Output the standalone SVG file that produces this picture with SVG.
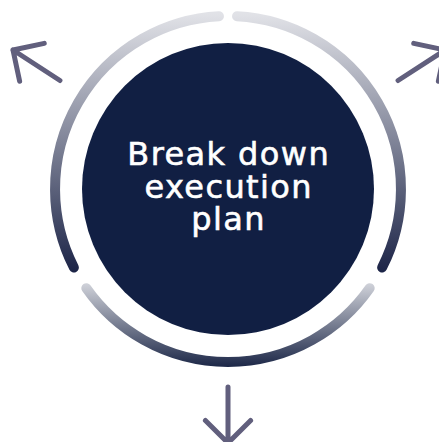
<svg xmlns="http://www.w3.org/2000/svg" width="439" height="442" viewBox="0 0 439 442">
  <style>
    .ring { fill: none; stroke-width: 10; stroke-linecap: round; }
    .arrow { fill: none; stroke: #615f7d; stroke-width: 5; stroke-linecap: round; stroke-linejoin: round; }
    .label { font-family: "DejaVu Sans", "Liberation Sans", sans-serif; font-size: 32px; fill: #ffffff; stroke: #ffffff; stroke-width: 0.6; text-anchor: middle; letter-spacing: 1.4px; }
  </style>
  <defs>
    <linearGradient id="gSide" gradientUnits="userSpaceOnUse" x1="0" y1="14" x2="0" y2="272">
      <stop offset="0" stop-color="#e1e2e7"/>
      <stop offset="1" stop-color="#1c2447"/>
    </linearGradient>
    <linearGradient id="gBottom" gradientUnits="userSpaceOnUse" x1="0" y1="282" x2="0" y2="366">
      <stop offset="0" stop-color="#d3d5dc"/>
      <stop offset="1" stop-color="#1e2949"/>
    </linearGradient>
    <path id="arrowShape" d="M56 0 L0 0 M22.6 -22.6 L0 0 L22.6 22.6"/>
  </defs>

  <g id="ring">
    <path class="ring" stroke="url(#gSide)" d="M73.9 267.5 A173 173 0 0 1 218.95 16.2"/>
    <path class="ring" stroke="url(#gSide)" d="M237.05 16.2 A173 173 0 0 1 382.1 267.5"/>
    <path class="ring" stroke="url(#gBottom)" d="M369.7 288.2 A173 173 0 0 1 86.3 288.2"/>
  </g>

  <g id="center-node">
    <circle cx="228" cy="189" r="146" fill="#111f43"/>
    <text class="label"><tspan x="228.7" y="165">Break down</tspan><tspan x="228.7" y="198">execution</tspan><tspan x="228.7" y="230">plan</tspan></text>
  </g>

  <g id="connectors">
    <use href="#arrowShape" class="arrow" transform="translate(13,50) rotate(33)"/>
    <use href="#arrowShape" class="arrow" transform="translate(445,50) rotate(147)"/>
    <use href="#arrowShape" class="arrow" transform="translate(228,443) rotate(-90)"/>
  </g>
</svg>
